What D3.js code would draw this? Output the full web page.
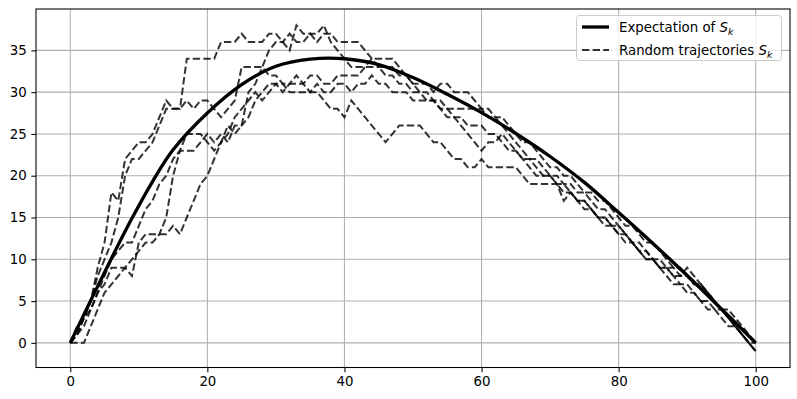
<!DOCTYPE html>
<html><head><meta charset="utf-8">
<script src="https://cdn.jsdelivr.net/npm/d3@7"></script>
<style>body{margin:0;background:#fff}svg{display:block}text{font-family:"DejaVu Sans",sans-serif}</style>
</head><body><svg id="c" width="797" height="399"></svg>
<script>
// Expectation of S_k, read at a few k
const expK = [0, 3, 6, 9, 12, 15, 20, 25, 30, 35, 40, 45, 50, 55, 60, 65, 70, 75, 80, 85, 90, 95, 100];
const expV = [0, 5.1, 10.1, 14.9, 19.3, 23.1, 27.5, 30.9, 33.1, 33.95, 34.0, 33.3, 31.75, 29.75, 27.55, 25.05, 22.3, 19.2, 15.6, 11.9, 8.05, 4.05, 0];

// Random trajectories S_k, one value per k = 0..100
const traj1 = [0,2,3,5,9,12,18,17,22,23,24,24,25,27,29,28,28,34,34,34,34,34,36,36,36,37,36,36,36,37,37,36,35,38,37,37,37,38,36,35,34,33,33,33,33,33,33,33,32,32,31,31,31,30,31,31,30,30,30,29,28,28,27,27,26,25,24,24,23,22,21,21,20,20,19,18,18,17,17,16,15,14,14,13,12,12,11,10,9,9,8,7,7,6,5,4,4,3,2,1,0];
const traj2 = [0,1,3,5,8,10,12,15,20,22,22,23,24,26,28,28,28,29,28,29,29,28,27,28,29,33,33,33,33,32,32,31,31,31,31,32,32,31,31,32,32,32,32,33,34,34,34,34,33,32,31,30,30,29,29,28,28,28,28,28,28,27,27,26,25,24,23,22,22,21,20,20,19,19,18,18,17,16,16,15,14,13,12,12,11,10,10,9,9,8,8,7,7,6,5,4,3,2,1,0,-1];
const traj3 = [0,1,3,4,6,7,9,9,9,8,12,13,13,13,13,14,13,15,17,19,20,22,24,26,25,26,30,31,33,35,36,36,37,36,36,37,36,37,37,36,36,36,36,35,34,33,32,32,31,31,30,30,29,29,28,27,27,26,25,24,23,24,24,25,24,23,22,22,21,20,20,19,19,18,17,17,16,15,15,14,14,13,12,11,10,10,9,9,8,7,7,6,5,5,4,4,3,2,1,0,-1];
const traj4 = [0,0,0,2,4,6,7,8,9,10,11,12,12,13,15,20,23,23,23,24,25,24,25,24,26,26,27,29,30,31,31,31,30,30,30,30,30,29,28,28,27,29,28,27,26,25,24,25,26,26,26,26,25,24,24,23,22,22,21,21,22,21,21,21,21,21,20,19,19,19,19,19,17,18,17,16,16,15,14,14,13,12,12,11,10,10,9,8,7,7,6,6,5,4,4,3,2,2,1,0,0];
const traj5 = [0,1,2,4,6,8,10,11,12,12,14,16,17,19,20,22,23,25,25,25,24,23,24,25,27,28,29,30,29,30,31,30,31,32,31,30,31,30,30,31,31,30,31,31,32,31,31,30,30,30,29,29,29,29,28,28,27,27,26,26,26,25,25,24,23,23,22,21,20,20,20,19,18,18,17,17,16,15,15,14,13,13,12,11,11,10,9,9,8,8,9,8,7,6,5,4,3,2,1,0,-1];
const trajectories = [traj1, traj2, traj3, traj4, traj5];

const xTicks = [0, 20, 40, 60, 80, 100];
const yTicks = [0, 5, 10, 15, 20, 25, 30, 35];
const legendLabels = ["Expectation of ", "Random trajectories "];

const svg = d3.select("#c");
const L = 36, R = 790, T = 9, B = 367.5;
const pt = 96 / 72;

const all = trajectories.flat().concat(expV);
const kMin = 0, kMax = 100;
const vMin = d3.min(all), vMax = d3.max(all);
const kPad = (kMax - kMin) * 0.05, vPad = (vMax - vMin) * 0.05;
const x = d3.scaleLinear().domain([kMin - kPad, kMax + kPad]).range([L, R]);
const y = d3.scaleLinear().domain([vMin - vPad, vMax + vPad]).range([B, T]);

// grid
const grid = svg.append("g");
grid.selectAll("line.gx").data(xTicks).join("line")
  .attr("x1", d => x(d)).attr("x2", d => x(d)).attr("y1", T).attr("y2", B)
  .attr("stroke", "#b0b0b0").attr("stroke-width", 0.8 * pt);
grid.selectAll("line.gy").data(yTicks).join("line")
  .attr("y1", d => y(d)).attr("y2", d => y(d)).attr("x1", L).attr("x2", R)
  .attr("stroke", "#b0b0b0").attr("stroke-width", 0.8 * pt);

// expectation
const expData = expK.map((k, i) => [k, expV[i]]);
svg.append("path").datum(expData)
  .attr("d", d3.line().x(d => x(d[0])).y(d => y(d[1])).curve(d3.curveCatmullRom.alpha(0.5)))
  .attr("fill", "none").attr("stroke", "#000").attr("stroke-width", 2.5 * pt)
  .attr("stroke-linejoin", "round");

// trajectories
const tl = d3.line().x((d, i) => x(i)).y(d => y(d));
svg.append("g").selectAll("path").data(trajectories).join("path")
  .attr("d", d => tl(d))
  .attr("fill", "none").attr("stroke", "#000").attr("stroke-opacity", 0.8)
  .attr("stroke-width", 1.5 * pt).attr("stroke-dasharray", `${3.7*1.5*pt},${1.6*1.5*pt}`);

// axes
const fs = 10 * pt;
const xAxis = d3.axisBottom(x).tickValues(xTicks).tickSize(3.5 * pt).tickPadding(3.5 * pt).tickFormat(d3.format("d"));
const yAxis = d3.axisLeft(y).tickValues(yTicks).tickSize(3.5 * pt).tickPadding(3.5 * pt).tickFormat(d3.format("d"));
const gx = svg.append("g").attr("transform", `translate(0,${B})`).call(xAxis);
const gy = svg.append("g").attr("transform", `translate(${L},0)`).call(yAxis);
[gx, gy].forEach(g => {
  g.select(".domain").remove();
  g.selectAll("line").attr("stroke", "#000").attr("stroke-width", 0.8 * pt);
  g.selectAll("text").attr("font-family", "DejaVu Sans").attr("font-size", fs).attr("fill", "#000");
});
// frame
svg.append("rect").attr("x", L).attr("y", T).attr("width", R - L).attr("height", B - T)
  .attr("fill", "none").attr("stroke", "#000").attr("stroke-width", 0.8 * pt);

// legend
const lg = svg.append("g");
const lx = 576.5, ly = 15.5, lw = 205, lh = 45;
lg.append("rect").attr("x", lx).attr("y", ly).attr("width", lw).attr("height", lh)
  .attr("rx", 3).attr("fill", "#fff").attr("fill-opacity", 0.8)
  .attr("stroke", "#cccccc").attr("stroke-width", 1);
const rows = [27, 50];
lg.append("line").attr("x1", 582).attr("x2", 609).attr("y1", rows[0]).attr("y2", rows[0])
  .attr("stroke", "#000").attr("stroke-width", 2.5 * pt);
lg.append("line").attr("x1", 582).attr("x2", 609).attr("y1", rows[1]).attr("y2", rows[1])
  .attr("stroke", "#000").attr("stroke-opacity", 0.8).attr("stroke-width", 1.5 * pt)
  .attr("stroke-dasharray", `${3.7*1.5*pt},${1.6*1.5*pt}`);
legendLabels.forEach((lab, i) => {
  const t = lg.append("text").attr("x", 619).attr("y", rows[i] + 4.5).attr("font-size", fs).attr("fill", "#000");
  t.append("tspan").text(lab);
  t.append("tspan").attr("font-style", "italic").text("S");
  t.append("tspan").attr("font-style", "italic").attr("font-size", fs * 0.7).attr("dy", 3).text("k");
});
</script></body></html>
